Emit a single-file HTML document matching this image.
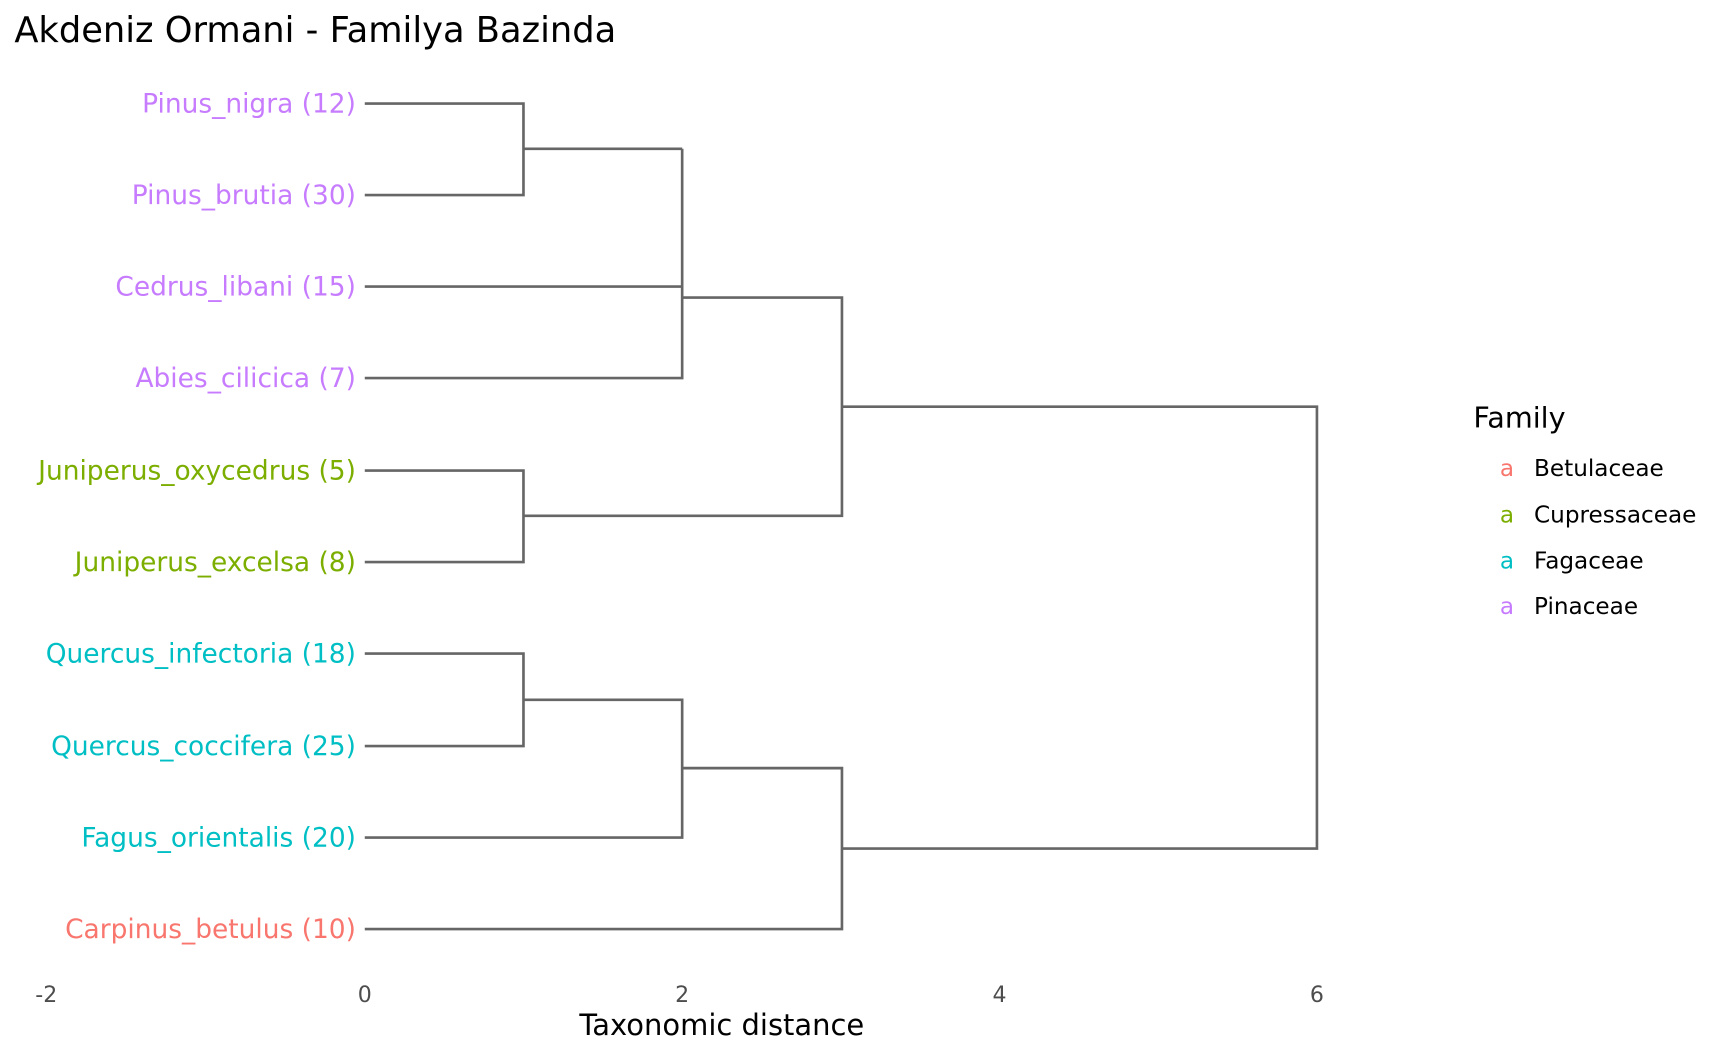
<!DOCTYPE html>
<html><head><meta charset="utf-8"><style>
html,body{margin:0;padding:0;background:#fff;}
svg{display:block;}
text{font-family:"DejaVu Sans","Liberation Sans",sans-serif;}
</style></head><body>
<svg width="1728" height="1056" viewBox="0 0 1568 958.2" xmlns="http://www.w3.org/2000/svg">
<rect width="1568" height="958.2" fill="#fff"/>
<text x="13" y="38" font-size="32" fill="#000">Akdeniz Ormani - Familya Bazinda</text>
<g stroke="#666" stroke-width="2.4" fill="none">
<path d="M331 94H475V177H331"/>
<path d="M475 135H619"/>
<path d="M331 260H619"/>
<path d="M619 135V343H331"/>
<path d="M331 427H475V510H331"/>
<path d="M619 270H764V468H475"/>
<path d="M331 593H475V677H331"/>
<path d="M475 635H619V760H331"/>
<path d="M619 697H764V843H331"/>
<path d="M764 369H1195V770H764"/>
</g>
<g font-size="24" text-anchor="end">
<text x="323" y="102" fill="#C77CFF">Pinus_nigra (12)</text>
<text x="323" y="185" fill="#C77CFF">Pinus_brutia (30)</text>
<text x="323" y="268" fill="#C77CFF">Cedrus_libani (15)</text>
<text x="323" y="351" fill="#C77CFF">Abies_cilicica (7)</text>
<text x="323" y="435" fill="#7CAE00">Juniperus_oxycedrus (5)</text>
<text x="323" y="518" fill="#7CAE00">Juniperus_excelsa (8)</text>
<text x="323" y="601" fill="#00BFC4">Quercus_infectoria (18)</text>
<text x="323" y="685" fill="#00BFC4">Quercus_coccifera (25)</text>
<text x="323" y="768" fill="#00BFC4">Fagus_orientalis (20)</text>
<text x="323" y="851" fill="#F8766D">Carpinus_betulus (10)</text>
</g>
<g font-size="20" fill="#4d4d4d" text-anchor="middle">
<text x="42" y="909">-2</text>
<text x="331" y="909">0</text>
<text x="619" y="909">2</text>
<text x="907" y="909">4</text>
<text x="1195" y="909">6</text>
</g>
<text x="655" y="939" font-size="26.3" text-anchor="middle" fill="#000">Taxonomic distance</text>
<text x="1337" y="388" font-size="26" fill="#000">Family</text>
<g font-size="21">
<text x="1361" y="432" fill="#F8766D">a</text><text x="1392" y="432" fill="#000">Betulaceae</text>
<text x="1361" y="474" fill="#7CAE00">a</text><text x="1392" y="474" fill="#000">Cupressaceae</text>
<text x="1361" y="516" fill="#00BFC4">a</text><text x="1392" y="516" fill="#000">Fagaceae</text>
<text x="1361" y="557" fill="#C77CFF">a</text><text x="1392" y="557" fill="#000">Pinaceae</text>
</g>
</svg>
</body></html>
